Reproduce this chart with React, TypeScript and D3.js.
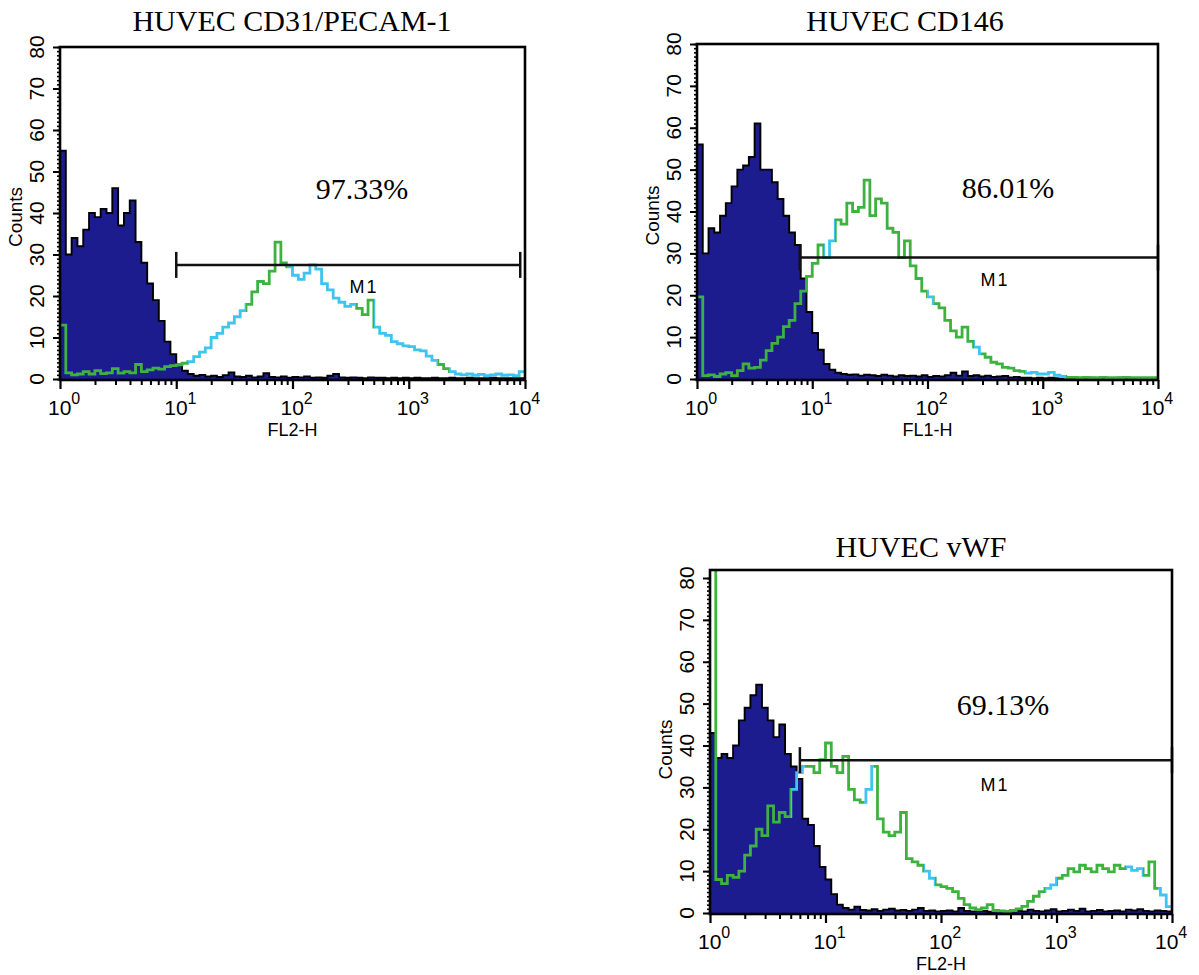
import React, { useEffect, useRef } from "react";
import * as d3 from "d3";

// channel starts, in decades of fluorescence (20 channels per decade, 10^0 .. 10^4)
const channelLog = d3.range(80).map((i) => i / 20);

const titles = ["HUVEC CD31/PECAM-1", "HUVEC CD146", "HUVEC vWF"];
const percentLabels = ["97.33%", "86.01%", "69.13%"];
const axisLabels = ["FL2-H", "FL1-H", "FL2-H"];
const countTicks = [0, 10, 20, 30, 40, 50, 60, 70, 80];
const decadeTicks = [1, 10, 100, 1000, 10000];
const decadeExponents = ["0", "1", "2", "3", "4"];

// M1 marker gates
const markerStart = [10, 7.8, 6];
const markerEnd = [9100, 10000, 10000];
const markerLevel = [27.5, 29, 36.5];

// CD31 / PECAM-1
const isotypeCD31 = [
  55, 30, 34, 32, 36, 40, 39, 41, 40, 46, 37, 40, 43, 33, 28, 23, 19, 14, 9, 6,
  3.5, 2, 1.2, 0.8, 1, 0.6, 0.8, 0.5, 0.9, 1.6, 0.6, 0.5, 0.8, 0.4, 0.6, 1.4, 0.5, 0.4, 0.6, 0.3,
  0.5, 0.4, 0.6, 0.3, 0.4, 0.3, 0.8, 1.2, 0.4, 0.3, 0.4, 0.3, 0.2, 0.4, 0.3, 0.3, 0.2, 0.3, 0.2, 0.3,
  0.2, 0.3, 0.2, 0.2, 0.3, 0.2, 0.2, 0.3, 0.2, 0.2, 0.3, 0.2, 0.2, 0.2, 0.3, 0.2, 0.2, 0.2, 0.2, 0.2,
];
const stainedCD31 = [
  13, 1.5, 1, 1.2, 1.8, 1.2, 2, 1.3, 1.5, 2.5, 1.4, 1.8, 1.5, 3.5, 1.8, 2.2, 2.6, 2.4, 3, 3.2,
  3.4, 3.8, 4.2, 5.4, 6.5, 7.5, 10, 11, 12.5, 13.5, 15, 16.5, 18, 21, 23.5, 23, 26, 33, 28, 27,
  25, 24, 25.5, 27.5, 26.5, 23, 21.5, 19.5, 18.5, 17.5, 18, 17, 15.5, 19, 12.5, 11, 10.5, 9, 8.5, 8,
  7.8, 7, 6.8, 5.5, 4.5, 3.5, 2.5, 1.8, 1.2, 1, 1.2, 0.9, 1.1, 0.8, 1, 1.2, 0.9, 1, 0.8, 1.8,
];

// CD146
const isotypeCD146 = [
  56, 30, 36, 35, 39, 42, 46, 50, 51, 53, 61, 50, 50, 47, 43, 39, 35, 32, 24, 16,
  11, 7, 3.6, 2.2, 1.5, 1.2, 1, 1.1, 0.8, 1, 0.9, 0.7, 1, 0.8, 0.6, 0.9, 0.7, 0.8, 0.6, 0.9,
  0.5, 0.7, 0.6, 0.9, 1.5, 0.8, 1.8, 0.7, 0.9, 0.6, 0.8, 0.5, 0.6, 0.7, 0.4, 0.5, 0.3, 0.3, 0.2, 0.3,
  0.2, 0.3, 0.2, 0.2, 0.3, 0.2, 0.2, 0.2, 0.3, 0.2, 0.2, 0.2, 0.2, 0.3, 0.2, 0.2, 0.2, 0.2, 0.2, 0.2,
];
const stainedCD146 = [
  19.6, 0.8, 1, 0.6, 1.2, 1.5, 0.8, 2, 3.6, 2.6, 2.8, 4.5, 6.8, 8.5, 10, 12.5, 14, 18, 21, 24.5,
  27.6, 32, 29, 33, 38, 37, 42, 40, 41, 47.5, 39, 43, 42, 36, 35, 29, 33, 27, 24, 21,
  19.6, 18, 17, 14, 11.5, 10, 12.4, 9, 7.6, 6, 5.2, 4, 3.6, 2.8, 2.6, 2, 1.8, 1.4, 1.6, 1.2,
  1.2, 1.6, 0.9, 0.6, 0.4, 0.4, 0.3, 0.4, 0.3, 0.3, 0.4, 0.3, 0.3, 0.3, 0.4, 0.3, 0.3, 0.3, 0.3, 0.3,
];

// vWF
const isotypeVWF = [
  43, 37, 38, 37, 40, 46, 49, 52, 54.5, 49, 46, 42, 45, 38, 35, 32, 22.5, 21, 16, 11,
  8, 4.5, 2, 1.2, 0.8, 1.5, 0.7, 0.6, 0.9, 0.5, 0.8, 1, 0.6, 0.7, 0.5, 0.8, 1.2, 0.5, 0.6, 0.4,
  0.5, 0.6, 0.4, 1.2, 0.5, 0.4, 0.6, 0.5, 0.3, 0.4, 0.5, 0.3, 0.4, 0.6, 0.4, 0.8, 0.5, 0.4, 0.6, 0.9,
  0.4, 0.5, 0.8, 0.5, 1, 0.4, 0.5, 0.7, 0.4, 0.5, 0.6, 0.4, 0.8, 0.6, 0.9, 0.5, 0.4, 0.6, 0.5, 0.4,
];
const stainedVWF = [
  90, 8, 7, 9, 8.5, 10, 13.8, 16, 20, 18.5, 25.6, 21.7, 24, 23, 29.5, 33.5, 35, 35, 33.5, 36.6,
  40.6, 35, 33.5, 37.4, 29.5, 27, 26.4, 29.5, 35, 22.5, 19.3, 18.5, 19.3, 24, 13, 12.2, 11.4, 10, 8.3, 6.7,
  6.3, 5.9, 5.1, 3.5, 2, 1.2, 0.8, 1.2, 2, 0.6, 0.5, 0.4, 0.6, 1, 1.6, 2.8, 4, 5.1, 5.9, 6.7,
  8.3, 9, 10.6, 9.8, 11.4, 10.6, 9.8, 11.4, 10.6, 9.8, 11.4, 10.6, 11, 10.2, 10.6, 9, 12.2, 5.9, 4.3, 1.5,
];

const GREEN = "#3db23f";
const CYAN = "#3ec4ee";

// layout and colour bands of the stained trace (decade ranges) for each panel
const panels = [
  {
    left: 60, right: 525, top: 47, frameTop: 47, zero: 379,
    titleX: 292, titleY: 31, pctX: 362, pctY: 199, m1X: 364, m1Y: 293,
    isotype: isotypeCD31, stained: stainedCD31,
    bands: [[0, 1.1, GREEN], [1.1, 1.6, CYAN], [1.6, 1.95, GREEN], [1.95, 2.55, CYAN], [2.55, 2.7, GREEN], [2.7, 3.25, CYAN], [3.25, 3.35, GREEN], [3.35, 4, CYAN]],
  },
  {
    left: 697, right: 1158, top: 44, frameTop: 44, zero: 379,
    titleX: 905, titleY: 31, pctX: 1008, pctY: 198, m1X: 995, m1Y: 286,
    isotype: isotypeCD146, stained: stainedCD146,
    bands: [[0, 1.1, GREEN], [1.1, 1.2, CYAN], [1.2, 2.0, GREEN], [2.0, 2.06, CYAN], [2.06, 2.4, GREEN], [2.4, 2.46, CYAN], [2.46, 2.85, GREEN], [2.85, 3.2, CYAN], [3.2, 4, GREEN]],
  },
  {
    left: 710, right: 1172, top: 578, frameTop: 570, zero: 913,
    titleX: 921, titleY: 557, pctX: 1003, pctY: 715, m1X: 995, m1Y: 791,
    isotype: isotypeVWF, stained: stainedVWF,
    bands: [[0, 0.7, GREEN], [0.7, 0.82, CYAN], [0.82, 1.33, GREEN], [1.33, 1.42, CYAN], [1.42, 1.85, GREEN], [1.85, 1.95, CYAN], [1.95, 2.9, GREEN], [2.9, 3.0, CYAN], [3.0, 3.6, GREEN], [3.6, 3.75, CYAN], [3.75, 3.88, GREEN], [3.88, 4, CYAN]],
  },
];

const SANS = "'Liberation Sans', Arial, Helvetica, sans-serif";
const SERIF = "'Liberation Serif', 'Times New Roman', serif";

const App = () => {
  const svgRef = useRef<SVGSVGElement>(null);

  useEffect(() => {
    const svg = d3.select(svgRef.current);
    svg.selectAll("*").remove();
    const defs = svg.append("defs");

    panels.forEach((p, k) => {
      const x = d3.scaleLog().domain([1, 10000]).range([p.left, p.right]);
      const y = d3.scaleLinear().domain([0, 80]).range([p.zero, p.top]);
      const g = svg.append("g");

      defs
        .append("clipPath")
        .attr("id", `clip${k}`)
        .append("rect")
        .attr("x", p.left)
        .attr("y", p.frameTop)
        .attr("width", p.right - p.left)
        .attr("height", p.zero - p.frameTop);

      const grad = defs
        .append("linearGradient")
        .attr("id", `grad${k}`)
        .attr("gradientUnits", "userSpaceOnUse")
        .attr("x1", p.left)
        .attr("x2", p.right)
        .attr("y1", 0)
        .attr("y2", 0);
      p.bands.forEach(([a, b, c]) => {
        grad.append("stop").attr("offset", (a as number) / 4).attr("stop-color", c as string);
        grad.append("stop").attr("offset", (b as number) / 4).attr("stop-color", c as string);
      });

      // step points: channel start + closing point at 10^4
      const pts = (vals: number[]) => {
        const arr = channelLog.map((l, i) => [10 ** l, vals[i]] as [number, number]);
        arr.push([10000, vals[vals.length - 1]]);
        return arr;
      };

      const area = d3
        .area<[number, number]>()
        .x((d) => x(d[0]))
        .y0(y(0))
        .y1((d) => y(d[1]))
        .curve(d3.curveStepAfter);
      const line = d3
        .line<[number, number]>()
        .x((d) => x(d[0]))
        .y((d) => y(d[1]))
        .curve(d3.curveStepAfter);

      const plot = g.append("g").attr("clip-path", `url(#clip${k})`);
      plot.append("path").attr("d", area(pts(p.isotype))).attr("fill", "#1c1c8e");
      plot
        .append("path")
        .attr("d", line(pts(p.isotype)))
        .attr("fill", "none")
        .attr("stroke", "#000")
        .attr("stroke-width", 1.9);
      plot
        .append("path")
        .attr("d", line(pts(p.stained)))
        .attr("fill", "none")
        .attr("stroke", `url(#grad${k})`)
        .attr("stroke-width", 2.8);

      // M1 marker
      const my = y(markerLevel[k]);
      const mx0 = x(markerStart[k]);
      const mx1 = x(markerEnd[k]);
      g.append("line")
        .attr("x1", mx0).attr("x2", mx1).attr("y1", my).attr("y2", my)
        .attr("stroke", "#111").attr("stroke-width", 2.5);
      [mx0, mx1].forEach((mx) => {
        g.append("line")
          .attr("x1", mx).attr("x2", mx).attr("y1", my - 13).attr("y2", my + 13)
          .attr("stroke", "#111").attr("stroke-width", 2.5);
      });

      // frame
      g.append("rect")
        .attr("x", p.left)
        .attr("y", p.frameTop)
        .attr("width", p.right - p.left)
        .attr("height", p.zero + 1 - p.frameTop)
        .attr("fill", "none")
        .attr("stroke", "#000")
        .attr("stroke-width", 2.6);

      // y axis ticks
      g.append("g")
        .attr("transform", `translate(${p.left},0)`)
        .call(d3.axisLeft(y).tickValues(d3.range(0, 81, 1)).tickSize(3).tickFormat(() => ""))
        .call((s) => s.select(".domain").remove())
        .call((s) => s.selectAll("line").attr("stroke-width", 1.6));
      g.append("g")
        .attr("transform", `translate(${p.left},0)`)
        .call(d3.axisLeft(y).tickValues(countTicks).tickSize(7).tickFormat(() => ""))
        .call((s) => s.select(".domain").remove())
        .call((s) => s.selectAll("line").attr("stroke-width", 2));

      // x axis ticks
      const minors = d3.range(4).flatMap((e) => d3.range(2, 10).map((m) => m * 10 ** e));
      g.append("g")
        .attr("transform", `translate(0,${p.zero + 1})`)
        .call(d3.axisBottom(x).tickValues(minors).tickSize(5).tickFormat(() => ""))
        .call((s) => s.select(".domain").remove())
        .call((s) => s.selectAll("line").attr("stroke-width", 2));
      g.append("g")
        .attr("transform", `translate(0,${p.zero + 1})`)
        .call(d3.axisBottom(x).tickValues(decadeTicks).tickSize(9).tickFormat(() => ""))
        .call((s) => s.select(".domain").remove())
        .call((s) => s.selectAll("line").attr("stroke-width", 2.2));

      // y tick labels (rotated)
      countTicks.forEach((v) => {
        g.append("text")
          .attr("transform", `translate(${p.left - 24},${y(v)}) rotate(-90)`)
          .attr("text-anchor", "middle")
          .attr("dy", "0.36em")
          .attr("font-family", SANS)
          .attr("font-size", 21)
          .text(v);
      });
      g.append("text")
        .attr("transform", `translate(${p.left - 45},${(y(0) + y(80)) / 2 + 4}) rotate(-90)`)
        .attr("text-anchor", "middle")
        .attr("dy", "0.36em")
        .attr("font-family", SANS)
        .attr("font-size", 19)
        .text("Counts");

      // x tick labels 10^n
      decadeTicks.forEach((v, i) => {
        const t = g
          .append("text")
          .attr("x", x(v) - 12 - (i === decadeTicks.length - 1 ? 5 : 0))
          .attr("y", p.zero + 36)
          .attr("font-family", SANS)
          .attr("font-size", 21);
        t.append("tspan").text("10");
        t.append("tspan").attr("dy", -11).attr("font-size", 16).text(decadeExponents[i]);
      });
      g.append("text")
        .attr("x", (p.left + p.right) / 2)
        .attr("y", p.zero + 57)
        .attr("text-anchor", "middle")
        .attr("font-family", SANS)
        .attr("font-size", 18)
        .text(axisLabels[k]);

      // annotations
      g.append("text")
        .attr("x", p.m1X)
        .attr("y", p.m1Y)
        .attr("text-anchor", "middle")
        .attr("font-family", SANS)
        .attr("font-size", 18)
        .attr("letter-spacing", 2)
        .text("M1");
      g.append("text")
        .attr("x", p.pctX)
        .attr("y", p.pctY)
        .attr("text-anchor", "middle")
        .attr("font-family", SERIF)
        .attr("font-size", 30)
        .text(percentLabels[k]);
      g.append("text")
        .attr("x", p.titleX)
        .attr("y", p.titleY)
        .attr("text-anchor", "middle")
        .attr("font-family", SERIF)
        .attr("font-size", 30)
        .text(titles[k]);
    });
  }, []);

  return (
    <svg
      ref={svgRef}
      width={1199}
      height={975}
      style={{ position: "absolute", left: 0, top: 0, background: "#fff" }}
    ></svg>
  );
};

export default App;
